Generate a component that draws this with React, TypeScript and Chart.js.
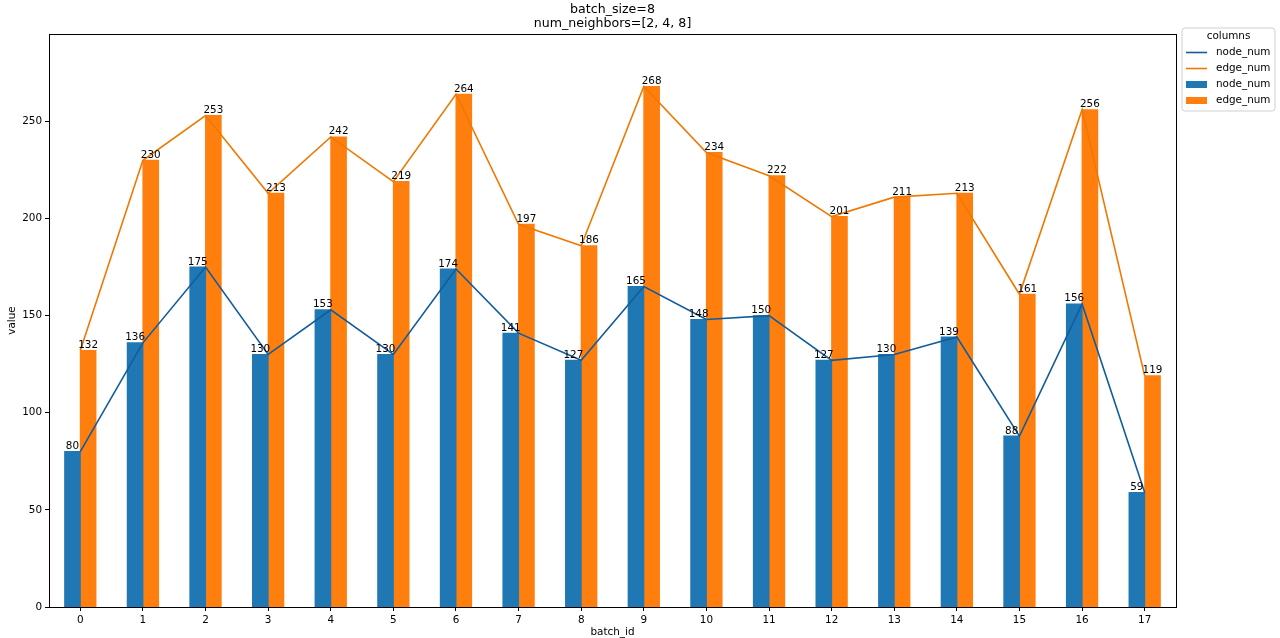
import React, { useEffect, useRef } from "react";
import { Chart, registerables } from "chart.js";

Chart.register(...registerables);

const categories = ["0", "1", "2", "3", "4", "5", "6", "7", "8", "9", "10", "11", "12", "13", "14", "15", "16", "17"];
const nodeNum = [80, 136, 175, 130, 153, 130, 174, 141, 127, 165, 148, 150, 127, 130, 139, 88, 156, 59];
const edgeNum = [132, 230, 253, 213, 242, 219, 264, 197, 186, 268, 234, 222, 201, 211, 213, 161, 256, 119];
const titleLines = ["batch_size=8", "num_neighbors=[2, 4, 8]"];
const xTitle = "batch_id";
const yTitle = "value";
const legendTitle = "columns";

const FONT = "'DejaVu Sans', sans-serif";
const FS = 10.4;

const customPlugin = {
  id: "customDraw",
  afterDatasetsDraw(chart: any) {
    const ctx = chart.ctx;
    ctx.save();
    ctx.font = `${FS}px ${FONT}`;
    ctx.fillStyle = "#000";
    ctx.textAlign = "center";
    ctx.textBaseline = "alphabetic";
    chart.data.datasets.forEach((ds: any, i: number) => {
      if (ds.type !== "bar") return;
      const meta = chart.getDatasetMeta(i);
      meta.data.forEach((el: any, j: number) => {
        ctx.fillText(String(ds.data[j]), el.x, el.y - 2.5);
      });
    });
    ctx.restore();
  },
  afterDraw(chart: any) {
    const ctx = chart.ctx;
    const a = chart.chartArea;
    ctx.save();
    // frame
    ctx.strokeStyle = "#000";
    ctx.lineWidth = 1;
    ctx.strokeRect(Math.round(a.left) + 0.5, Math.round(a.top) + 0.5, Math.round(a.right - a.left), Math.round(a.bottom - a.top));
    // title
    const cx = (a.left + a.right) / 2;
    ctx.fillStyle = "#000";
    ctx.textAlign = "center";
    ctx.textBaseline = "middle";
    ctx.font = `12.6px ${FONT}`;
    ctx.fillText(titleLines[0], cx, 10);
    ctx.fillText(titleLines[1], cx, 23.5);
    // axis titles
    ctx.font = `${FS}px ${FONT}`;
    ctx.fillText(xTitle, cx, 632);
    ctx.save();
    ctx.translate(12, (a.top + a.bottom) / 2);
    ctx.rotate(-Math.PI / 2);
    ctx.fillText(yTitle, 0, 0);
    ctx.restore();
    // legend
    const lx = 1182, ly = 28, lw = 93, lh = 83;
    ctx.beginPath();
    const r = 3;
    ctx.moveTo(lx + r, ly);
    ctx.lineTo(lx + lw - r, ly);
    ctx.quadraticCurveTo(lx + lw, ly, lx + lw, ly + r);
    ctx.lineTo(lx + lw, ly + lh - r);
    ctx.quadraticCurveTo(lx + lw, ly + lh, lx + lw - r, ly + lh);
    ctx.lineTo(lx + r, ly + lh);
    ctx.quadraticCurveTo(lx, ly + lh, lx, ly + lh - r);
    ctx.lineTo(lx, ly + r);
    ctx.quadraticCurveTo(lx, ly, lx + r, ly);
    ctx.closePath();
    ctx.fillStyle = "rgba(255,255,255,0.8)";
    ctx.fill();
    ctx.strokeStyle = "#d0d0d0";
    ctx.lineWidth = 1;
    ctx.stroke();
    ctx.fillStyle = "#000";
    ctx.textAlign = "center";
    ctx.fillText(legendTitle, lx + lw / 2, 36.5);
    const ordered = [
      ...chart.data.datasets.filter((d: any) => d.type === "line"),
      ...chart.data.datasets.filter((d: any) => d.type === "bar"),
    ];
    const ys = [52.5, 68.5, 84.5, 100.5];
    ordered.forEach((ds: any, k: number) => {
      const y = ys[k];
      if (ds.type === "line") {
        ctx.strokeStyle = ds.borderColor;
        ctx.lineWidth = 1.6;
        ctx.beginPath();
        ctx.moveTo(1186, y);
        ctx.lineTo(1207, y);
        ctx.stroke();
      } else {
        ctx.fillStyle = ds.backgroundColor;
        ctx.fillRect(1186, y - 3.5, 21, 7);
      }
      ctx.fillStyle = "#000";
      ctx.textAlign = "left";
      ctx.fillText(ds.label, 1216, y);
    });
    ctx.restore();
  },
};

export default function App() {
  const ref = useRef<HTMLCanvasElement>(null);
  useEffect(() => {
    document.body.style.margin = "0";
    Chart.defaults.font.family = FONT;
    Chart.defaults.font.size = FS;
    Chart.defaults.color = "#000";
    const chart = new Chart(ref.current as HTMLCanvasElement, {
      type: "bar",
      data: {
        labels: categories,
        datasets: [
          {
            type: "line",
            label: "node_num",
            data: nodeNum,
            borderColor: "#135c9c",
            borderWidth: 1.6,
            pointRadius: 0,
            tension: 0,
            order: 0,
          } as any,
          {
            type: "line",
            label: "edge_num",
            data: edgeNum,
            borderColor: "#f07800",
            borderWidth: 1.6,
            pointRadius: 0,
            tension: 0,
            order: 0,
          } as any,
          {
            type: "bar",
            label: "node_num",
            data: nodeNum,
            backgroundColor: "#1f77b4",
            borderWidth: 0,
            inflateAmount: 0.5,
            categoryPercentage: 0.5,
            barPercentage: 1.0,
            order: 1,
          } as any,
          {
            type: "bar",
            label: "edge_num",
            data: edgeNum,
            backgroundColor: "#ff7f0e",
            borderWidth: 0,
            inflateAmount: 0.5,
            categoryPercentage: 0.5,
            barPercentage: 1.0,
            order: 1,
          } as any,
        ],
      },
      options: {
        animation: false,
        responsive: true,
        maintainAspectRatio: false,
        layout: { padding: { top: 34, right: 104, left: 0, bottom: 0 } },
        plugins: {
          legend: { display: false },
          title: { display: false },
          tooltip: { enabled: false },
        },
        scales: {
          x: {
            offset: true,
            grid: { display: true, drawOnChartArea: false, drawTicks: true, tickLength: 4, color: "#000", offset: false },
            border: { display: false },
            ticks: { padding: 3, maxRotation: 0, autoSkip: false, font: { size: FS, family: FONT }, color: "#000" },
            afterFit: (s: any) => { s.height = 31; },
          },
          y: {
            min: 0,
            max: 295,
            grid: { display: true, drawOnChartArea: false, drawTicks: true, tickLength: 4, color: "#000" },
            border: { display: false },
            ticks: { stepSize: 50, padding: 3, font: { size: FS, family: FONT }, color: "#000" },
            afterBuildTicks: (s: any) => { s.ticks = s.ticks.filter((t: any) => t.value % 50 === 0); },
            afterFit: (s: any) => { s.width = 49; },
          },
        },
      },
      plugins: [customPlugin],
    });
    return () => chart.destroy();
  }, []);
  return (
    <div style={{ width: 1280, height: 638, position: "relative" }}>
      <canvas ref={ref} />
    </div>
  );
}
